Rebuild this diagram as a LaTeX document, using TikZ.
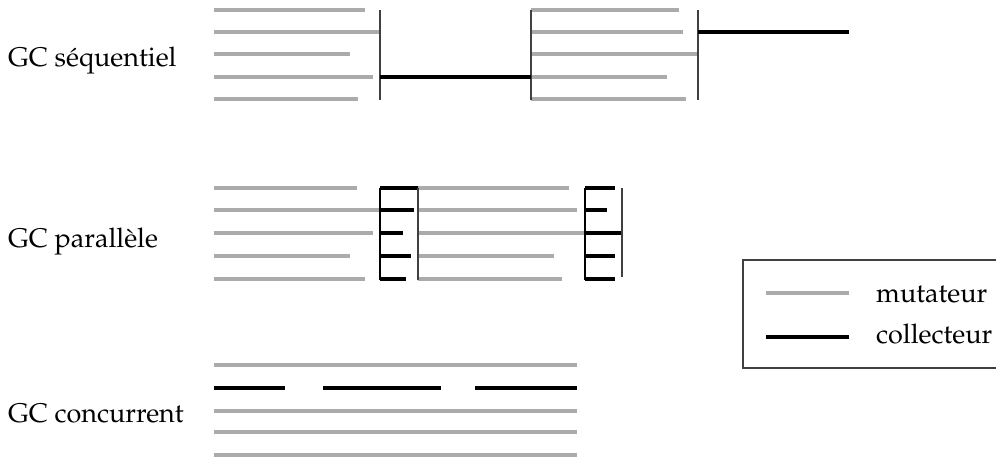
\documentclass[tikz,border=0pt]{standalone}
\usepackage[T1]{fontenc}
\usepackage{mathpazo}
\usetikzlibrary{positioning}

\begin{document}
\begin{tikzpicture}[
  x=1pt,y=-1pt,
  font=\fontsize{27}{32}\selectfont,
  mut/.style={black!33,line width=3.1pt},
  coll/.style={black,line width=3.2pt},
  sync/.style={black!75,line width=1.1pt},
  lbl/.style={anchor=base west,inner sep=0pt}
]
\useasboundingbox (0,0) rectangle (996,456);
% sequentiel
\node[lbl] (seq) at (8,66) {GC s\'equentiel};
\foreach \y/\e in {10/365,32/380,54/350,77/373,99/358}
  \draw[mut] (214,\y) -- (\e,\y);
\foreach \y/\e in {10/679,32/683,54/698,77/667,99/686}
  \draw[mut] (531,\y) -- (\e,\y);
\foreach \x in {380,531,698}
  \draw[sync] (\x,10) -- (\x,100);
\draw[coll] (380,77) -- (531,77);
\draw[coll] (698,32) -- (849,32);
% parallele
\node[lbl] (par) at (8,247) {GC parall\`ele};
\foreach \y/\e in {188/357,210/380,233/373,256/350,279/365}
  \draw[mut] (214,\y) -- (\e,\y);
\foreach \y/\e in {188/569,210/577,233/622,256/554,279/562}
  \draw[mut] (418,\y) -- (\e,\y);
\foreach \y/\e in {188/418,210/414,233/403,256/411,279/406}
  \draw[coll] (380,\y) -- (\e,\y);
\foreach \y/\e in {188/615,210/607,233/622,256/615,279/615}
  \draw[coll] (585,\y) -- (\e,\y);
\draw[black,line width=1.4pt] (380,188) -- (380,280);
\draw[black,line width=1.4pt] (585,188) -- (585,280);
\draw[sync] (418,188) -- (418,280);
\draw[sync] (622,188) -- (622,277);
% concurrent
\node[lbl] (conc) at (8,422) {GC concurrent};
\foreach \y in {365,411,432,455}
  \draw[mut] (214,\y) -- (577,\y);
\foreach \a/\b in {214/285,323/441,475/577}
  \draw[coll] (\a,388) -- (\b,388);
% legende
\draw[sync] (1000,260) -- (743,260) -- (743,368) -- (1000,368);
\draw[mut] (766,293) -- (849,293);
\draw[coll] (766,337) -- (849,337);
\node[lbl] (lmut) at (876,302) {mutateur};
\node[lbl] (lcoll) at (876,343) {collecteur};
\end{tikzpicture}
\end{document}
